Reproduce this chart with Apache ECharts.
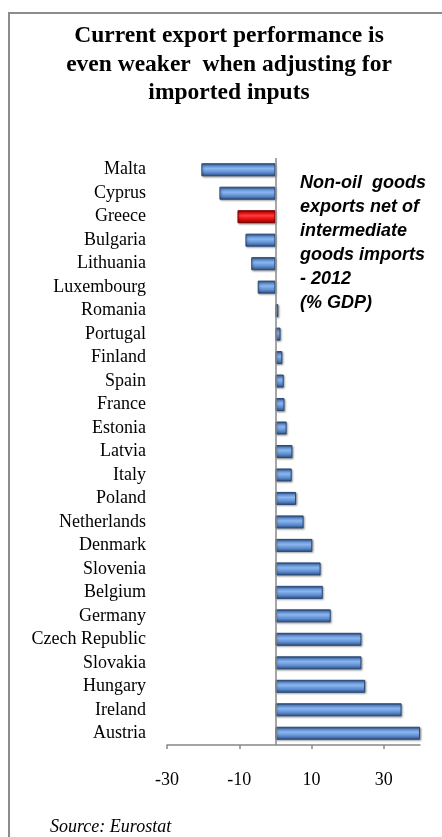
<!DOCTYPE html>
<html>
<head>
<meta charset="utf-8">
<script src="https://cdn.jsdelivr.net/npm/echarts@6/dist/echarts.min.js"></script>
<style>
  html, body { margin: 0; padding: 0; background: #fff; }
  #chart { width: 442px; height: 837px; }
</style>
</head>
<body>
<div id="chart"></div>
<script>
// Non-oil goods exports net of intermediate goods imports, 2012 (% of GDP)
var countries = ['Malta', 'Cyprus', 'Greece', 'Bulgaria', 'Lithuania', 'Luxembourg',
  'Romania', 'Portugal', 'Finland', 'Spain', 'France', 'Estonia', 'Latvia', 'Italy',
  'Poland', 'Netherlands', 'Denmark', 'Slovenia', 'Belgium', 'Germany',
  'Czech Republic', 'Slovakia', 'Hungary', 'Ireland', 'Austria'];
var netExports = [-20.5, -15.5, -10.5, -8.3, -6.7, -4.9,
  0.8, 1.4, 1.9, 2.3, 2.5, 3.1, 4.7, 4.5,
  5.7, 7.8, 10.2, 12.5, 13.1, 15.3,
  23.8, 23.8, 24.8, 34.9, 40];
var highlighted = 'Greece';
var xTicks = [-30, -10, 10, 30];

var titleLines = ['Current export performance is', 'even weaker  when adjusting for', 'imported inputs'];
var noteLines = ['Non-oil  goods', 'exports net of', 'intermediate', 'goods imports', '- 2012', '(% GDP)'];
var sourceText = 'Source: Eurostat';

// vertical bevel: dark rims, light band across the middle
function bevel(light, mid, dark) {
  return new echarts.graphic.LinearGradient(0, 0, 0, 1, [
    { offset: 0, color: dark },
    { offset: 0.18, color: mid },
    { offset: 0.42, color: light },
    { offset: 0.7, color: mid },
    { offset: 1, color: dark }
  ]);
}
var blueFill = bevel('#8ab6f0', '#5f8fd2', '#2b4c7e');
var redFill = bevel('#ff3a3a', '#e00d0d', '#8a0000');

var barData = netExports.map(function (v, i) {
  var isRed = countries[i] === highlighted;
  return {
    value: v,
    itemStyle: {
      color: isRed ? redFill : blueFill,
      borderColor: isRed ? '#7a0000' : '#2a4a78',
      borderWidth: 1
    }
  };
});

var chart = echarts.init(document.getElementById('chart'), null, { renderer: 'canvas' });
chart.setOption({
  animation: false,
  backgroundColor: '#fff',
  grid: { left: 167, right: 22, top: 158, bottom: 92 },
  xAxis: {
    type: 'value',
    min: -30,
    max: 40,
    axisLine: { show: true, onZero: false, lineStyle: { color: '#888', width: 1.5 } },
    axisTick: { show: true, length: 4, customValues: xTicks, lineStyle: { color: '#888', width: 1.5 } },
    axisLabel: {
      customValues: xTicks,
      margin: 26,
      color: '#000',
      fontFamily: 'Liberation Serif',
      fontSize: 18
    },
    splitLine: { show: false }
  },
  yAxis: {
    type: 'category',
    inverse: true,
    data: countries,
    axisLine: { show: false },
    axisTick: { show: false },
    axisLabel: {
      margin: 21,
      color: '#000',
      fontFamily: 'Liberation Serif',
      fontSize: 18,
      padding: [2, 0, 0, 0]
    }
  },
  series: [{
    type: 'bar',
    data: barData,
    barWidth: 13,
    itemStyle: { shadowBlur: 2, shadowColor: 'rgba(0,0,0,0.35)', shadowOffsetX: 1, shadowOffsetY: 1 },
    markLine: {
      silent: true,
      symbol: 'none',
      label: { show: false },
      lineStyle: { color: '#888', width: 1.5, type: 'solid' },
      data: [{ xAxis: 0 }]
    }
  }],
  graphic: [
    {
      type: 'rect', silent: true, z: -1,
      shape: { x: 9, y: 13, width: 700, height: 1000 },
      style: { fill: null, stroke: '#8c8c8c', lineWidth: 2 }
    },
    {
      type: 'text', x: 229, y: 22,
      style: {
        text: titleLines.join('\n'),
        align: 'center',
        verticalAlign: 'top',
        font: 'bold 23.5px "Liberation Serif"',
        lineHeight: 28.5,
        fill: '#000'
      }
    },
    {
      type: 'text', x: 300, y: 171,
      style: {
        text: noteLines.join('\n'),
        align: 'left',
        verticalAlign: 'top',
        font: 'italic bold 18px "Liberation Sans"',
        lineHeight: 24,
        fill: '#000'
      }
    },
    {
      type: 'text', x: 50, y: 818,
      style: {
        text: sourceText,
        align: 'left',
        verticalAlign: 'top',
        font: 'italic 18px "Liberation Serif"',
        fill: '#000'
      }
    }
  ]
});
</script>
</body>
</html>
